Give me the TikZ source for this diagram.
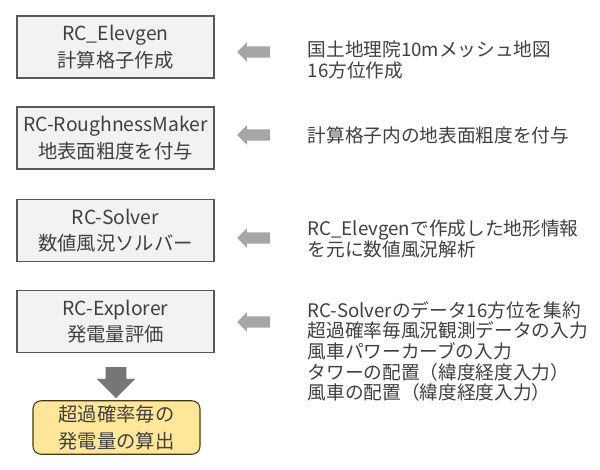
\documentclass[tikz,border=0pt]{standalone}
\usepackage{fontspec}
\setmainfont{Noto Sans CJK JP}
\usepackage{xcolor}
\usetikzlibrary{shapes.arrows, positioning}
\definecolor{boxgray}{RGB}{242,242,242}
\definecolor{edgegray}{RGB}{89,89,89}
\definecolor{textgray}{RGB}{64,64,64}
\definecolor{arrowlight}{RGB}{166,166,166}
\definecolor{arrowdark}{RGB}{118,118,118}
\definecolor{resultyellow}{RGB}{255,230,153}
\definecolor{resultedge}{RGB}{70,55,20}

\begin{document}
\begin{tikzpicture}[
    x=0.75pt, y=-0.75pt,
    toolbox/.style={draw=edgegray, fill=boxgray, line width=0.8pt, minimum width=147.75pt, minimum height=46.5pt, align=center, text=textgray, font=\fontsize{14.5}{20}\selectfont},
    resultbox/.style={draw=resultedge, fill=resultyellow, line width=0.8pt, rounded corners=6pt, minimum width=125.25pt, minimum height=38.25pt, align=center, text=textgray, font=\fontsize{14.5}{20}\selectfont},
    inarrow/.style={single arrow, fill=arrowlight, shape border rotate=180, inner xsep=0pt, inner ysep=4.1pt, minimum height=24.75pt, single arrow head extend=3pt},
    outarrow/.style={single arrow, fill=arrowdark, shape border rotate=270, inner ysep=0pt, inner xsep=7.5pt, minimum height=23.25pt, single arrow head extend=6.75pt},
    notetext/.style={anchor=west, align=left, text=textgray, font=\fontsize{14}{15.5}\selectfont}
]
    % Canvas
    \fill[white] (0,0) rectangle (600,469);
    \useasboundingbox (0,0) rectangle (600,469);

    % Tool chain
    \node[toolbox] (elevgen) at (115.5,47) {RC\_Elevgen\\計算格子作成};
    \node[toolbox] (rough) at (115.5,138) {RC-RoughnessMaker\\地表面粗度を付与};
    \node[toolbox] (solver) at (115.5,230.5) {RC-Solver\\数値風況ソルバー};
    \node[toolbox] (explorer) at (115.5,321.5) {RC-Explorer\\発電量評価};

    % Output
    \node[outarrow] (down) at (116,377.5) {};
    \node[resultbox] (result) at (116.5,427.5) {超過確率毎の\\発電量の算出};

    % Inputs
    \node[inarrow] (in1) at (256.5,52) {};
    \node[notetext] (note1) at (303,60) {国土地理院10mメッシュ地図\\16方位作成};

    \node[inarrow] (in2) at (256.5,135) {};
    \node[notetext] (note2) at (303,135) {計算格子内の地表面粗度を付与};

    \node[inarrow] (in3) at (256.5,238) {};
    \node[notetext] (note3) at (303,239) {RC\_Elevgenで作成した地形情報\\を元に数値風況解析};

    \node[inarrow] (in4) at (256.5,322) {};
    \node[notetext] (note4) at (303,351.5) {RC-Solverのデータ16方位を集約\\超過確率毎風況観測データの入力\\風車パワーカーブの入力\\タワーの配置（緯度経度入力）\\風車の配置（緯度経度入力）};
\end{tikzpicture}
\end{document}
